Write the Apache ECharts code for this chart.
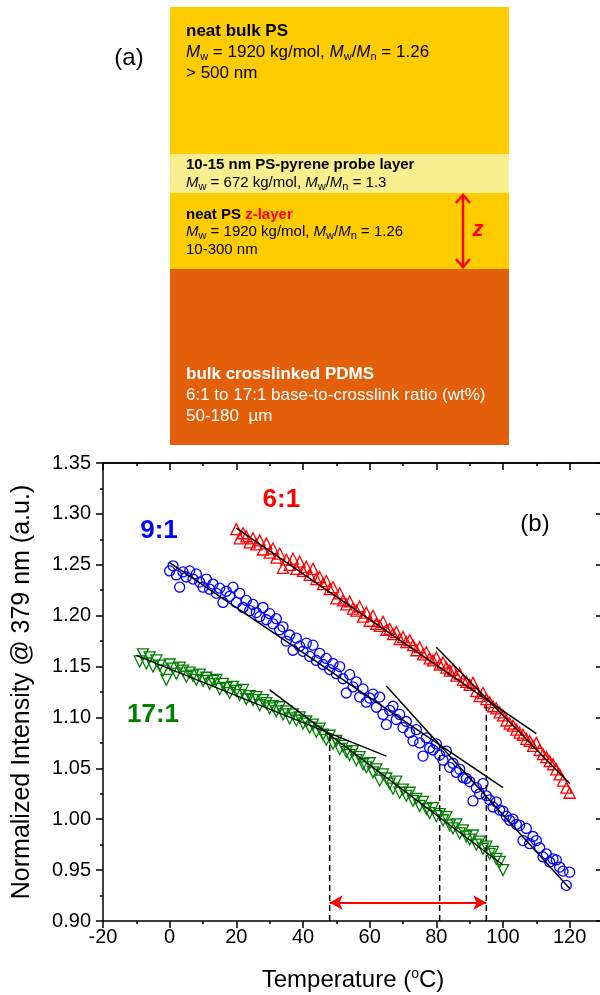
<!DOCTYPE html>
<html>
<head>
<meta charset="utf-8">
<script src="https://cdn.jsdelivr.net/npm/echarts/dist/echarts.min.js"></script>
<style>
  html, body { margin: 0; padding: 0; background: #ffffff; }
  #chart { width: 600px; height: 995px; }
</style>
</head>
<body>
<div id="chart"></div>
<script>
// Pyrene probe-layer fluorescence (379 nm) on cooling, for PS films on PDMS
// substrates of three base-to-crosslinker ratios.

const temp61 = [20,21,22,23,24,25,26,27,28,29,30,31,32,33,34,35,36,37,38,39,40,41,42,43,44,45,46,47,48,49,50,51,52,53,54,55,56,57,58,59,60,61,62,63,64,65,66,67,68,69,70,71,72,73,74,75,76,77,78,79,80,81,82,83,84,85,86,87,88,89,90,91,92,93,94,95,96,97,98,99,100,101,102,103,104,105,106,107,108,109,110,111,112,113,114,115,116,117,118,119,120];
const int61 = [1.285,1.276,1.281,1.278,1.272,1.276,1.270,1.274,1.265,1.271,1.262,1.266,1.257,1.261,1.247,1.255,1.250,1.256,1.246,1.253,1.244,1.248,1.240,1.246,1.236,1.238,1.231,1.234,1.226,1.228,1.217,1.222,1.215,1.211,1.214,1.207,1.205,1.209,1.199,1.203,1.195,1.200,1.192,1.190,1.194,1.186,1.187,1.182,1.184,1.177,1.179,1.174,1.176,1.171,1.166,1.169,1.162,1.164,1.158,1.156,1.159,1.152,1.154,1.149,1.146,1.147,1.141,1.143,1.137,1.135,1.132,1.134,1.126,1.121,1.124,1.118,1.115,1.111,1.109,1.105,1.102,1.097,1.094,1.092,1.088,1.085,1.083,1.079,1.077,1.072,1.075,1.068,1.064,1.061,1.057,1.054,1.049,1.044,1.038,1.031,1.026];

const temp91 = [0,1,2,3,4,5,6,7,8,9,10,11,12,13,14,15,16,17,18,19,20,21,22,23,24,25,26,27,28,29,30,31,32,33,34,35,36,37,38,39,40,41,42,43,44,45,46,47,48,49,50,51,52,53,54,55,56,57,58,59,60,61,62,63,64,65,66,67,68,69,70,71,72,73,74,75,76,77,78,79,80,81,82,83,84,85,86,87,88,89,90,91,92,93,94,95,96,97,98,99,100,101,102,103,104,105,106,107,108,109,110,111,112,113,114,115,116,117,118,119,120];
const int91 = [1.244,1.249,1.240,1.228,1.243,1.238,1.244,1.236,1.241,1.233,1.228,1.236,1.226,1.231,1.222,1.227,1.213,1.224,1.219,1.228,1.213,1.222,1.208,1.215,1.205,1.211,1.203,1.199,1.208,1.196,1.202,1.192,1.197,1.186,1.189,1.175,1.181,1.166,1.178,1.170,1.165,1.173,1.160,1.171,1.156,1.163,1.152,1.158,1.147,1.153,1.143,1.150,1.138,1.124,1.142,1.130,1.135,1.120,1.128,1.115,1.119,1.123,1.110,1.120,1.103,1.093,1.107,1.111,1.098,1.103,1.090,1.096,1.085,1.077,1.088,1.075,1.062,1.080,1.070,1.068,1.074,1.063,1.058,1.067,1.051,1.055,1.046,1.049,1.041,1.040,1.037,1.018,1.031,1.025,1.035,1.023,1.019,1.012,1.017,1.009,1.008,1.003,0.999,1.000,0.995,0.994,0.979,0.991,0.976,0.983,0.979,0.972,0.963,0.966,0.958,0.961,0.960,0.953,0.949,0.935,0.948];

const temp171 = [-9,-8,-7,-6,-5,-4,-3,-2,-1,0,1,2,3,4,5,6,7,8,9,10,11,12,13,14,15,16,17,18,19,20,21,22,23,24,25,26,27,28,29,30,31,32,33,34,35,36,37,38,39,40,41,42,43,44,45,46,47,48,49,50,51,52,53,54,55,56,57,58,59,60,61,62,63,64,65,66,67,68,69,70,71,72,73,74,75,76,77,78,79,80,81,82,83,84,85,86,87,88,89,90,91,92,93,94,95,96,97,98,99,100];
const int171 = [1.155,1.162,1.153,1.159,1.150,1.156,1.151,1.146,1.137,1.152,1.148,1.143,1.149,1.146,1.140,1.144,1.141,1.137,1.142,1.136,1.139,1.133,1.136,1.137,1.128,1.133,1.129,1.124,1.130,1.126,1.122,1.127,1.118,1.121,1.117,1.120,1.112,1.117,1.114,1.109,1.111,1.106,1.110,1.103,1.106,1.099,1.103,1.097,1.100,1.094,1.096,1.090,1.093,1.086,1.089,1.083,1.078,1.082,1.074,1.077,1.069,1.072,1.066,1.063,1.067,1.058,1.061,1.054,1.051,1.055,1.046,1.049,1.038,1.044,1.040,1.035,1.030,1.037,1.026,1.029,1.023,1.026,1.018,1.020,1.013,1.017,1.010,1.006,1.011,1.003,1.005,0.999,1.002,0.994,0.991,0.995,0.986,0.989,0.983,0.980,0.984,0.975,0.978,0.971,0.973,0.966,0.968,0.961,0.958,0.950];

// Linear fits below / above each transition: [T1, I1, T2, I2]
const fit61 = [[20, 1.286, 110, 1.084], [80, 1.169, 120, 1.035]];
const fit91 = [[0, 1.252, 100, 1.031], [65, 1.131, 120, 0.932]];
const fit171 = [[-10, 1.161, 65, 1.062], [30, 1.127, 100, 0.955]];

// Transition temperatures (fit intersections) and the intensity there
const tgTemps = [48, 81, 95];
const tgLevels = [1.082, 1.073, 1.118];
const spanLevel = 0.918;

const ratioNames = ['6:1', '9:1', '17:1'];
const ratioTagPos = [[33.5, 1.314], [-3.2, 1.283], [-5, 1.103]];

const xMin = -20, xMax = 130, xMajor = 20, xMinor = 10;
const yMin = 0.90, yMax = 1.35, yMajor = 0.05;

const FONT = '"Liberation Sans", Arial, Helvetica, sans-serif';
const RED = '#ff0000', BLUE = '#0000ff', GREEN = '#008000';
const ratioColors = [RED, BLUE, GREEN];

const zip = (xs, ys) => xs.map((x, i) => [x, ys[i]]);

function markerSeries(name, data, color, symbol, size, rotate) {
  return {
    name, type: 'scatter', data, symbol, symbolSize: size, symbolRotate: rotate || 0,
    itemStyle: { color: 'rgba(0,0,0,0)', borderColor: color, borderWidth: 1.3, opacity: 1 },
    z: 2, silent: true
  };
}
function segmentSeries(seg) {
  return {
    type: 'line', data: [[seg[0], seg[1]], [seg[2], seg[3]]],
    showSymbol: false, symbol: 'none',
    lineStyle: { color: '#000', width: 1.5 }, z: 4, silent: true
  };
}

const series = [
  markerSeries('17:1', zip(temp171, int171), GREEN, 'triangle', 11, 180),
  markerSeries('9:1', zip(temp91, int91), BLUE, 'circle', 10),
  markerSeries('6:1', zip(temp61, int61), RED, 'triangle', 11),
];
[fit61, fit91, fit171].forEach(f => f.forEach(seg => series.push(segmentSeries(seg))));

tgTemps.forEach((t, i) => {
  series.push({
    type: 'line', data: [[t, yMin], [t, tgLevels[i]]], symbol: 'none',
    lineStyle: { color: '#000', width: 1.5, type: [6, 4] }, z: 3, silent: true
  });
});

// double arrow spanning the lowest and highest transition
series.push({
  type: 'line', data: [], silent: true,
  markLine: {
    silent: true, animation: false,
    symbol: ['arrow', 'arrow'], symbolSize: [11, 13],
    label: { show: false },
    lineStyle: { color: RED, width: 2.2, type: 'solid', opacity: 1 },
    data: [[{ coord: [tgTemps[0], spanLevel] }, { coord: [tgTemps[2], spanLevel] }]]
  }
});

// ratio tags
series.push({
  type: 'scatter', symbolSize: 1, silent: true, z: 5,
  itemStyle: { color: 'rgba(0,0,0,0)', opacity: 1 },
  data: ratioNames.map((n, i) => ({
    name: n, value: ratioTagPos[i],
    label: { color: ratioColors[i] }
  })),
  label: {
    show: true, position: 'inside', formatter: p => p.name, opacity: 1,
    fontSize: 26, fontWeight: 'bold', fontFamily: FONT
  }
});

function xAxisDef(position, step, tickLen, inside, withLabel) {
  return {
    type: 'value', position, min: xMin, max: xMax, interval: step,
    axisLine: { show: withLabel || position === 'top', onZero: false, lineStyle: { color: '#000', width: 1.5 } },
    axisTick: { show: true, inside, length: tickLen, lineStyle: { color: '#000', width: 1.5 } },
    minorTick: { show: false }, splitLine: { show: false }, minorSplitLine: { show: false },
    axisLabel: withLabel ? {
      show: true, color: '#000', fontSize: 20, fontFamily: FONT, margin: 6,
      formatter: v => (v > 120 ? '' : String(v))
    } : { show: false },
    name: withLabel ? 'Temperature ({sup|o}C)' : '',
    nameLocation: 'middle', nameGap: 46, nameMoveOverlap: false,
    nameTextStyle: {
      color: '#000', fontSize: 24, fontFamily: FONT, lineHeight: 26,
      rich: { sup: { color: '#000', fontSize: 14, fontFamily: FONT, verticalAlign: 'top', lineHeight: 14 } }
    }
  };
}
function yAxisDef(position, inside, withLabel) {
  return {
    type: 'value', position, min: yMin, max: yMax, interval: yMajor,
    axisLine: { show: true, onZero: false, lineStyle: { color: '#000', width: 1.5 } },
    axisTick: { show: true, inside, length: 7, lineStyle: { color: '#000', width: 1.5 } },
    minorTick: { show: true, splitNumber: 2, length: 3, lineStyle: { color: '#000', width: 1.5 } },
    splitLine: { show: false }, minorSplitLine: { show: false },
    axisLabel: withLabel ? {
      show: true, color: '#000', fontSize: 20, fontFamily: FONT, margin: 12,
      formatter: v => v.toFixed(2)
    } : { show: false },
    name: withLabel ? 'Normalized Intensity @ 379 nm (a.u.)' : '',
    nameLocation: 'middle', nameGap: 68, nameMoveOverlap: false,
    nameTextStyle: { color: '#000', fontSize: 25, fontFamily: FONT }
  };
}

// Schematic of the film stack (panel a)
const subStyle = { fontSize: 11, fontFamily: FONT, verticalAlign: 'bottom', lineHeight: 11, fill: '#000' };
function richLine(x, y, text, size, color, extra) {
  const base = { fontSize: size, fontFamily: FONT, fill: color };
  return {
    type: 'text', x, y, silent: true,
    style: Object.assign({
      text, fontSize: size, fontFamily: FONT, fill: color,
      align: 'left', verticalAlign: 'middle', lineHeight: size + 4,
      rich: {
        i: Object.assign({}, base, { fontStyle: 'italic', lineHeight: size + 4 }),
        s: Object.assign({}, subStyle, { fill: color }),
        n: Object.assign({}, base, { lineHeight: size + 4 }),
        b: Object.assign({}, base, { fontWeight: 'bold', lineHeight: size + 4 }),
        r: Object.assign({}, base, { fontWeight: 'bold', fill: RED, lineHeight: size + 4 })
      }
    }, extra || {})
  };
}
const mwText = (mw, pdi) =>
  `{i|M}{s|w}{n| = ${mw} kg/mol, }{i|M}{s|w}{n|/}{i|M}{s|n}{n| = ${pdi}}`;

const graphic = [
  { type: 'rect', shape: { x: 170, y: 7, width: 339, height: 147 }, style: { fill: '#FFCC00' }, silent: true },
  { type: 'rect', shape: { x: 170, y: 154, width: 339, height: 39 }, style: { fill: '#F9EF8E' }, silent: true },
  { type: 'rect', shape: { x: 170, y: 193, width: 339, height: 76 }, style: { fill: '#FFCC00' }, silent: true },
  { type: 'rect', shape: { x: 170, y: 269, width: 339, height: 176 }, style: { fill: '#E35F0A' }, silent: true },

  richLine(186, 31, '{b|neat bulk PS}', 17, '#000'),
  richLine(186, 52, mwText('1920', '1.26'), 17, '#000'),
  richLine(186, 73, '{n|> 500 nm}', 17, '#000'),

  richLine(186, 165, '{b|10-15 nm PS-pyrene probe layer}', 15, '#000'),
  richLine(186, 183, mwText('672', '1.3'), 15, '#000'),

  richLine(186, 215, '{b|neat PS }{r|z-layer}', 15, '#000'),
  richLine(186, 232, mwText('1920', '1.26'), 15, '#000'),
  richLine(186, 250, '{n|10-300 nm}', 15, '#000'),

  richLine(186, 374, '{b|bulk crosslinked PDMS}', 17, '#fff'),
  richLine(186, 395, '{n|6:1 to 17:1 base-to-crosslink ratio (wt%)}', 17, '#fff'),
  richLine(186, 416, '{n|50-180  \u00b5m}', 17, '#fff'),

  // z-layer thickness arrow
  { type: 'line', shape: { x1: 463, y1: 196, x2: 463, y2: 266 }, style: { stroke: RED, lineWidth: 2.5 }, silent: true },
  { type: 'polyline', shape: { points: [[456, 203], [463, 195], [470, 203]] }, style: { stroke: RED, lineWidth: 2.5, fill: null }, silent: true },
  { type: 'polyline', shape: { points: [[456, 259], [463, 267], [470, 259]] }, style: { stroke: RED, lineWidth: 2.5, fill: null }, silent: true },
  { type: 'text', x: 478, y: 230, silent: true,
    style: { text: 'z', fill: RED, fontSize: 22, fontWeight: 'bold', fontStyle: 'italic', fontFamily: FONT, align: 'center', verticalAlign: 'middle' } },

  // panel tags
  { type: 'text', x: 129, y: 58, silent: true,
    style: { text: '(a)', fill: '#000', fontSize: 24, fontFamily: FONT, align: 'center', verticalAlign: 'middle' } },
  { type: 'text', x: 535, y: 524, silent: true,
    style: { text: '(b)', fill: '#000', fontSize: 24, fontFamily: FONT, align: 'center', verticalAlign: 'middle' } }
];

const chart = echarts.init(document.getElementById('chart'), null, { renderer: 'canvas' });
chart.setOption({
  animation: false,
  backgroundColor: '#ffffff',
  grid: { left: 103, top: 463, width: 500, height: 458, containLabel: false, outerBoundsMode: 'none' },
  xAxis: [
    xAxisDef('bottom', xMajor, 7, false, true),
    xAxisDef('bottom', xMinor, 3, false, false),
    xAxisDef('top', xMajor, 7, true, false),
    xAxisDef('top', xMinor, 3, true, false)
  ],
  yAxis: [
    yAxisDef('left', false, true),
    yAxisDef('right', true, false)
  ],
  series,
  graphic
});
</script>
</body>
</html>
